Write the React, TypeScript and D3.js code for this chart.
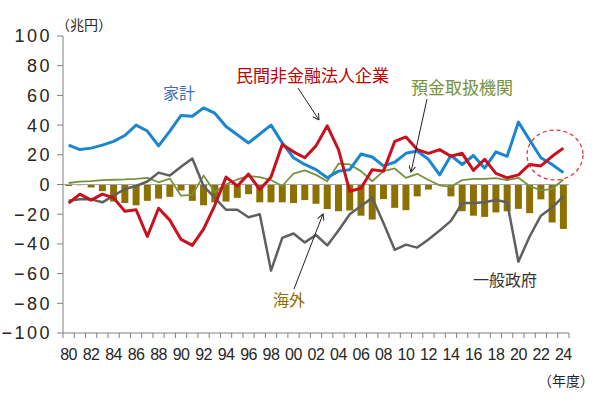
import { useEffect } from 'react';
import * as d3 from 'd3';

const years = d3.range(1980, 2025);
const yTicks = [100, 80, 60, 40, 20, 0, -20, -40, -60, -80, -100];

// 家計
const households = [26.5, 23.5, 24.5, 26.5, 29, 33, 40, 36, 26, 36, 46.5, 46, 51.6, 48, 39, 33.5, 28, 34, 40, 28,
  18, 13.5, 10, 4.5, 9, 10, 20.5, 18.5, 12.5, 15, 21, 22.5, 17, 6.5, 19.5, 13.5, 19.5, 11, 22, 19,
  42, 30, 18, 13.5, 8];
// 民間非金融法人企業
const corporates = [-12.5, -6.5, -10.5, -6.5, -9, -18, -17, -35, -16, -24, -37, -41, -30, -14, 5, -1, 7, -3.5, 5, 27,
  22, 18, 26, 39.5, 23.5, -4.5, -2.5, 10, 9, 29, 32, 23.5, 21, 23.5, 19, 21, 9.5, 17, 7.5, 4.5,
  6.5, 13.5, 12.5, 19, 24.5];
// 預金取扱機関
const banks = [1, 2, 2.3, 3, 3.2, 3.4, 3.8, 4.5, 1.5, 4, -7.5, -7, 6, -5, 0, 3.4, 5.6, 5, 3, -1,
  7.4, 9.5, 6.5, 2.2, 14, 13.5, 9, 2.2, 9, 10.8, 4.5, 7.2, 3, -0.5, -1.6, 3, 3.8, 3.8, 4.3, 3,
  4.5, -1, -4, -3, 3.4];
// 一般政府
const government = [-11, -10, -10, -12, -7.5, -3, -1, 2, 8, 6, 12, 17.5, -1, -9, -17, -17, -22, -20, -58, -36,
  -33, -39, -34, -41, -31, -20, -14.5, -9, -26, -44, -40.5, -42.5, -37, -31, -24.5, -12.5, -12.5, -12, -10.5, -12,
  -52, -35, -21, -15.5, -8];
// 海外
const overseas = [-1, -0.5, -2, -4.5, -11.5, -12.5, -14, -11, -9.5, -8.3, -4, -11, -14, -12, -11.5, -9, -6.5, -12, -12, -12,
  -12.5, -10.5, -13, -16.5, -18, -17.5, -21, -23.6, -9.8, -15.7, -17.3, -8, -3.4, -0.5, -8, -18, -21, -21.8, -18.8, -18,
  -16.4, -19.3, -10, -25.6, -29.9];

const W = 600;
const H = 402;
const m = { left: 63, right: 569, top: 36, bottom: 333 };
const jp = '"Noto Sans CJK JP", "Noto Sans", sans-serif';
const num = '"Liberation Sans", Arial, sans-serif';

export default function App() {
  useEffect(() => {
    document.body.style.margin = '0';
  }, []);

  const x = d3.scaleBand<number>().domain(years).range([m.left, m.right]).paddingInner(0.38).paddingOuter(0.19);
  const step = x.step();
  const y = d3.scaleLinear().domain([-100, 100]).range([m.bottom, m.top]);
  const cx = (yr: number) => (x(yr) as number) + x.bandwidth() / 2;

  const line = (vals: number[]) =>
    d3.line<number>().x((_, i) => cx(years[i])).y(d => y(d))(vals) as string;

  return (
    <svg width={W} height={H} style={{ position: 'absolute', left: 0, top: 0, background: '#fff' }}>
      <defs>
        <marker id="arr" viewBox="0 0 10 10" refX="9" refY="5" markerWidth="7" markerHeight="7" orient="auto">
          <path d="M0,0 L9,5 L0,10" fill="none" stroke="#222" strokeWidth="1.4" />
        </marker>
      </defs>

      {/* bars: 海外 */}
      {years.map((yr, i) => (
        <rect key={yr} x={x(yr)} width={x.bandwidth()}
          y={Math.min(y(overseas[i]), y(0))}
          height={Math.abs(y(overseas[i]) - y(0))}
          fill="#8C7000" />
      ))}

      {/* zero line */}
      <line x1={m.left} x2={m.right} y1={y(0)} y2={y(0)} stroke="#A6A6A6" strokeWidth={1} />

      <path d={line(banks)} fill="none" stroke="#76923C" strokeWidth={1.8} strokeLinejoin="round" />
      <path d={line(government)} fill="none" stroke="#5F5F5F" strokeWidth={2.5} strokeLinejoin="round" />
      <path d={line(households)} fill="none" stroke="#1A86D0" strokeWidth={3} strokeLinejoin="round" />
      <path d={line(corporates)} fill="none" stroke="#C8101E" strokeWidth={3} strokeLinejoin="round" />

      {/* y axis */}
      <line x1={m.left} x2={m.left} y1={m.top} y2={m.bottom} stroke="#808080" strokeWidth={1} />
      {yTicks.map(t => (
        <g key={t}>
          <line x1={m.left - 6} x2={m.left} y1={y(t)} y2={y(t)} stroke="#808080" />
          <text x={52} y={y(t)} dy="0.36em" textAnchor="end" fontFamily={num} fontSize={18}
            letterSpacing={2.5} fill="#262626">{t < 0 ? '−' + Math.abs(t) : t}</text>
        </g>
      ))}

      {/* x axis */}
      <line x1={m.left} x2={m.right} y1={m.bottom} y2={m.bottom} stroke="#808080" strokeWidth={1} />
      {d3.range(years.length + 1).map(i => (
        <line key={i} x1={m.left + i * step} x2={m.left + i * step} y1={m.bottom} y2={m.bottom + 5} stroke="#808080" />
      ))}
      {years.filter(yr => yr % 2 === 0).map(yr => (
        <text key={yr} x={cx(yr)} y={360} textAnchor="middle" fontFamily={num} fontSize={16}
          letterSpacing={-0.5} fill="#262626">{String(yr % 100).padStart(2, '0')}</text>
      ))}

      {/* unit labels */}
      <text x={56} y={30} fontFamily={jp} fontSize={14} fill="#262626">（兆円）</text>
      <text x={538} y={386} fontFamily={jp} fontSize={14} fill="#262626">（年度）</text>

      {/* series labels */}
      <text x={163} y={99} fontFamily={jp} fontSize={16} fill="#3A6FB8">家計</text>
      <text x={236} y={82} fontFamily={jp} fontSize={17} fill="#C00000">民間非金融法人企業</text>
      <text x={411} y={94} fontFamily={jp} fontSize={17} fill="#76923C">預金取扱機関</text>
      <text x={273} y={306} fontFamily={jp} fontSize={16} fill="#8C6D00">海外</text>
      <text x={473} y={286} fontFamily={jp} fontSize={16} fill="#333333">一般政府</text>

      {/* arrows */}
      <line x1={298} y1={88} x2={319} y2={120} stroke="#222" strokeWidth={1} markerEnd="url(#arr)" />
      <line x1={427} y1={99} x2={411} y2={172} stroke="#222" strokeWidth={1} markerEnd="url(#arr)" />
      <line x1={294} y1={289} x2={323} y2={214} stroke="#222" strokeWidth={1} markerEnd="url(#arr)" />

      {/* highlight */}
      <ellipse cx={555} cy={155} rx={28} ry={25} fill="none" stroke="#E0303A" strokeWidth={1.2} strokeDasharray="4,3" />
    </svg>
  );
}
